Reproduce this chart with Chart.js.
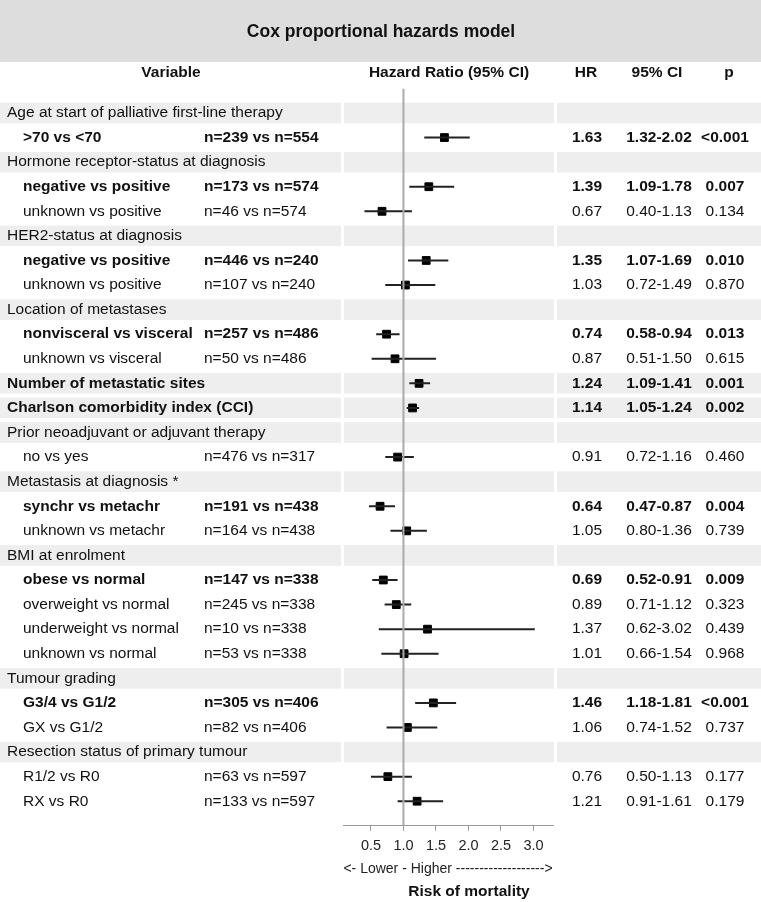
<!DOCTYPE html>
<html>
<head>
<meta charset="utf-8">
<script src="https://cdn.jsdelivr.net/npm/chart.js@4.4.1/dist/chart.umd.min.js"></script>
<style>
  html, body { margin: 0; padding: 0; background: #fff; }
  #wrap { width: 761px; height: 902px; position: relative; }
</style>
</head>
<body>
<div id="wrap"><canvas id="forest"></canvas></div>
<script>
const titleText = "Cox proportional hazards model";

// row texts (top to bottom)
const rowLabels = [
  "Age at start of palliative first-line therapy", ">70 vs <70",
  "Hormone receptor-status at diagnosis", "negative vs positive", "unknown vs positive",
  "HER2-status at diagnosis", "negative vs positive", "unknown vs positive",
  "Location of metastases", "nonvisceral vs visceral", "unknown vs visceral",
  "Number of metastatic sites", "Charlson comorbidity index (CCI)",
  "Prior neoadjuvant or adjuvant therapy", "no vs yes",
  "Metastasis at diagnosis *", "synchr vs metachr", "unknown vs metachr",
  "BMI at enrolment", "obese vs normal", "overweight vs normal", "underweight vs normal", "unknown vs normal",
  "Tumour grading", "G3/4 vs G1/2", "GX vs G1/2",
  "Resection status of primary tumour", "R1/2 vs R0", "RX vs R0"
];
const rowN = [
  "", "n=239 vs n=554",
  "", "n=173 vs n=574", "n=46 vs n=574",
  "", "n=446 vs n=240", "n=107 vs n=240",
  "", "n=257 vs n=486", "n=50 vs n=486",
  "", "",
  "", "n=476 vs n=317",
  "", "n=191 vs n=438", "n=164 vs n=438",
  "", "n=147 vs n=338", "n=245 vs n=338", "n=10 vs n=338", "n=53 vs n=338",
  "", "n=305 vs n=406", "n=82 vs n=406",
  "", "n=63 vs n=597", "n=133 vs n=597"
];
const hrValues = [
  null, 1.63,
  null, 1.39, 0.67,
  null, 1.35, 1.03,
  null, 0.74, 0.87,
  1.24, 1.14,
  null, 0.91,
  null, 0.64, 1.05,
  null, 0.69, 0.89, 1.37, 1.01,
  null, 1.46, 1.06,
  null, 0.76, 1.21
];
const ciLow = [
  null, 1.32,
  null, 1.09, 0.40,
  null, 1.07, 0.72,
  null, 0.58, 0.51,
  1.09, 1.05,
  null, 0.72,
  null, 0.47, 0.80,
  null, 0.52, 0.71, 0.62, 0.66,
  null, 1.18, 0.74,
  null, 0.50, 0.91
];
const ciHigh = [
  null, 2.02,
  null, 1.78, 1.13,
  null, 1.69, 1.49,
  null, 0.94, 1.50,
  1.41, 1.24,
  null, 1.16,
  null, 0.87, 1.36,
  null, 0.91, 1.12, 3.02, 1.54,
  null, 1.81, 1.52,
  null, 1.13, 1.61
];
const pValues = [
  "", "<0.001",
  "", "0.007", "0.134",
  "", "0.010", "0.870",
  "", "0.013", "0.615",
  "0.001", "0.002",
  "", "0.460",
  "", "0.004", "0.739",
  "", "0.009", "0.323", "0.439", "0.968",
  "", "<0.001", "0.737",
  "", "0.177", "0.179"
];
const boldRows = [1, 3, 6, 9, 11, 12, 16, 19, 24];
const bandRows = [0, 2, 5, 8, 11, 12, 13, 15, 18, 23, 26];
const xTicks = [0.5, 1.0, 1.5, 2.0, 2.5, 3.0];

const FONT = '"Liberation Sans", Arial, sans-serif';

// points and whisker lines
const points = [];
const whiskers = [];
hrValues.forEach((v, i) => {
  if (v === null) return;
  points.push({ x: v, y: i });
  whiskers.push({ x: ciLow[i], y: i }, { x: ciHigh[i], y: i }, { x: null, y: null });
});

const tablePlugin = {
  id: "forestTable",
  beforeDraw(chart) {
    const ctx = chart.ctx;
    ctx.save();
    ctx.fillStyle = "#ffffff";
    ctx.fillRect(0, 0, chart.width, chart.height);
    ctx.fillStyle = "#dddddd";
    ctx.fillRect(0, 0, chart.width, 62);
    ctx.fillStyle = "#111";
    ctx.textAlign = "center";
    ctx.textBaseline = "middle";
    ctx.font = "bold 17.5px " + FONT;
    ctx.fillText(titleText, 381, 32);
    ctx.font = "bold 15.5px " + FONT;
    ctx.fillText("Variable", 171, 73);
    ctx.fillText("Hazard Ratio (95% CI)", 449, 73);
    ctx.fillText("HR", 586, 73);
    ctx.fillText("95% CI", 657, 73);
    ctx.fillText("p", 729, 73);
    ctx.restore();
  },
  beforeDatasetsDraw(chart) {
    const ctx = chart.ctx;
    const y = chart.scales.y;
    ctx.save();
    ctx.fillStyle = "#eeeeee";
    bandRows.forEach(i => {
      const py = y.getPixelForValue(i);
      ctx.fillRect(0, py - 10.3, 341, 20.6);
      ctx.fillRect(344, py - 10.3, 210, 20.6);
      ctx.fillRect(557, py - 10.3, chart.width - 557, 20.6);
    });
    ctx.restore();
  },
  afterDraw(chart) {
    const ctx = chart.ctx;
    const y = chart.scales.y;
    ctx.save();
    ctx.fillStyle = "#111";
    ctx.textBaseline = "middle";
    rowLabels.forEach((lab, i) => {
      const py = y.getPixelForValue(i);
      const bold = boldRows.includes(i);
      ctx.font = (bold ? "bold " : "") + "15.5px " + FONT;
      const isGroup = rowN[i] === "";
      ctx.textAlign = "left";
      ctx.fillText(lab, isGroup ? 7 : 23, py);
      if (!isGroup) ctx.fillText(rowN[i], 204, py);
      if (hrValues[i] !== null) {
        ctx.textAlign = "center";
        ctx.fillText(hrValues[i].toFixed(2), 587, py);
        ctx.fillText(ciLow[i].toFixed(2) + "-" + ciHigh[i].toFixed(2), 659, py);
        ctx.fillText(pValues[i], 725, py);
      }
    });
    ctx.textAlign = "center";
    ctx.fillStyle = "#222";
    ctx.font = "14px " + FONT;
    ctx.fillText("<- Lower - Higher ------------------->", 448, 869);
    ctx.fillStyle = "#111";
    ctx.font = "bold 15.5px " + FONT;
    ctx.fillText("Risk of mortality", 469, 892);
    ctx.restore();
  }
};

new Chart(document.getElementById("forest"), {
  type: "scatter",
  data: {
    datasets: [
      {
        // reference line at HR = 1
        data: [{ x: 1, y: -1 }, { x: 1, y: 29 }],
        showLine: true,
        borderColor: "#aaaaaa",
        borderWidth: 2,
        pointRadius: 0
      },
      {
        data: whiskers,
        showLine: true,
        spanGaps: false,
        borderColor: "#222222",
        borderWidth: 2,
        pointRadius: 0
      },
      {
        data: points,
        pointStyle: "rect",
        pointRadius: 5.5,
        backgroundColor: "#000",
        borderColor: "#000",
        borderWidth: 1
      }
    ]
  },
  options: {
    responsive: true,
    maintainAspectRatio: false,
    animation: false,
    layout: { padding: { left: 343, right: 208, top: 88.4, bottom: 50.2 } },
    plugins: { legend: { display: false }, tooltip: { enabled: false } },
    scales: {
      x: {
        type: "linear",
        min: 0.07,
        max: 3.3,
        afterBuildTicks: axis => { axis.ticks = xTicks.map(v => ({ value: v })); },
        afterFit: axis => { axis.height = 26; },
        ticks: {
          callback: v => v.toFixed(1),
          color: "#222",
          padding: 6,
          maxRotation: 0,
          font: { family: FONT, size: 14.5 }
        },
        grid: { drawOnChartArea: false, drawTicks: true, tickLength: 5, color: "#999" },
        border: { display: true, color: "#999", width: 1 }
      },
      y: {
        type: "linear",
        min: -1,
        max: 29,
        reverse: true,
        display: false
      }
    }
  },
  plugins: [tablePlugin]
});
</script>
</body>
</html>
